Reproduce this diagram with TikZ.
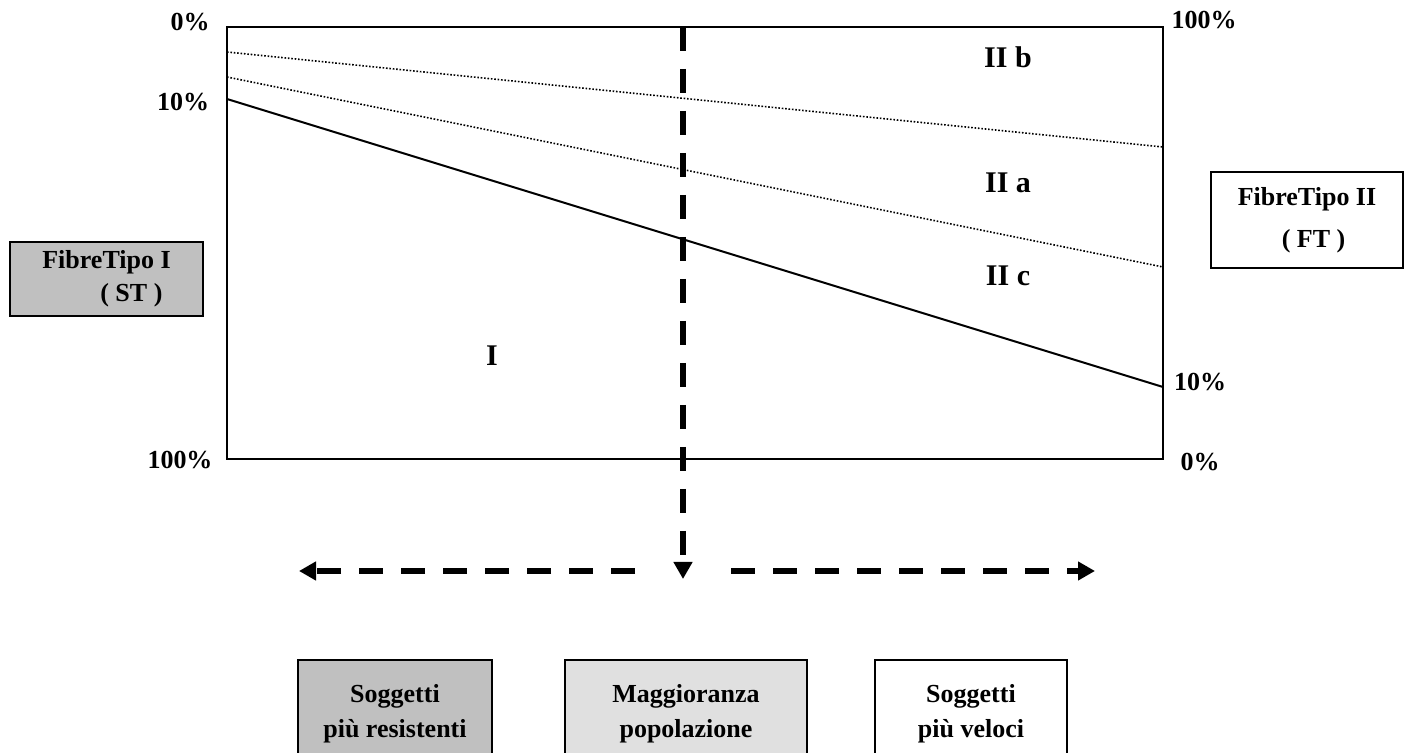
\documentclass[tikz,border=0pt]{standalone}
\usepackage{fontspec}
\setmainfont{Liberation Serif}
\usetikzlibrary{arrows.meta}
\definecolor{boxgray}{HTML}{C0C0C0}
\definecolor{boxlight}{HTML}{E0E0E0}

\begin{document}
\begin{tikzpicture}[%
      x=0.5pt, y=-0.5pt,
      lab/.style={font=\fontsize{13}{16}\selectfont\bfseries, inner sep=0pt},
      zone/.style={font=\fontsize{15}{18}\selectfont\bfseries, inner sep=0pt},
      fibrebox/.style={draw=black, line width=1pt, inner sep=0pt, align=left,
        font=\fontsize{13}{16.5}\selectfont\bfseries},
      groupbox/.style={draw=black, line width=1pt, inner sep=0pt, align=center,
        minimum height=53.5pt, font=\fontsize{13}{17.5}\selectfont\bfseries},
      dotline/.style={line width=0.8pt, dash pattern=on 0.8pt off 0.9pt},
      thickdash/.style={line width=2.8pt, dash pattern=on 12pt off 9pt,
        -{Triangle[width=9pt,length=8.5pt]}},
      ]
      \useasboundingbox (0,0) rectangle (1410,753);
      \clip (0,0) rectangle (1410,753);

      % plot area
      \coordinate (tl) at (227,27);
      \coordinate (br) at (1163,459);
      \draw [color=black, line width=1pt] (tl) rectangle (br);

      \draw [color=black, line width=1pt] (227,99) -- (1163,387);
      \draw [color=black, dotline] (227,52) -- (1163,147);
      \draw [color=black, dotline] (227,77) -- (1163,267);

      % percent labels
      \node[lab] (left0) at (190,22) {0\%};
      \node[lab] (left10) at (183,102) {10\%};
      \node[lab] (left100) at (180,460) {100\%};
      \node[lab] (right100) at (1204,20) {100\%};
      \node[lab] (right10) at (1200,382) {10\%};
      \node[lab] (right0) at (1200,462) {0\%};

      % zones
      \node[zone] (zoneIIb) at (1008,57) {II b};
      \node[zone] (zoneIIa) at (1008,183) {II a};
      \node[zone] (zoneIIc) at (1008,276) {II c};
      \node[zone] (zoneI) at (492,356) {I};

      % fibre boxes
      \node[fibrebox, fill=boxgray, minimum width=96.5pt, minimum height=37pt]
        (fibreST) at (106.5,279) {FibreTipo I\\\hspace*{29pt}( ST )};
      \node[fibrebox, fill=white, minimum width=96pt, minimum height=48pt,
        font=\fontsize{13}{21}\selectfont\bfseries]
        (fibreFT) at (1307,220) {FibreTipo II\\\hspace*{22pt}( FT )};

      % arrows
      \coordinate (vtop) at (683,27);
      \coordinate (vend) at (683,579);
      \coordinate (lstart) at (635,571);
      \coordinate (lend) at (299,571);
      \coordinate (rstart) at (731,571);
      \coordinate (rend) at (1095,571);
      \draw [thickdash] (vtop) -- (vend);
      \draw [thickdash] (lstart) -- (lend);
      \draw [thickdash] (rstart) -- (rend);

      % subject boxes
      \node[groupbox, fill=boxgray, minimum width=97pt] (resist) at (395,714)
        {Soggetti\\più resistenti};
      \node[groupbox, fill=boxlight, minimum width=121pt] (majority) at (686,714)
        {Maggioranza\\popolazione};
      \node[groupbox, fill=white, minimum width=96pt] (fast) at (971,714)
        {Soggetti\\più veloci};
\end{tikzpicture}
\end{document}
